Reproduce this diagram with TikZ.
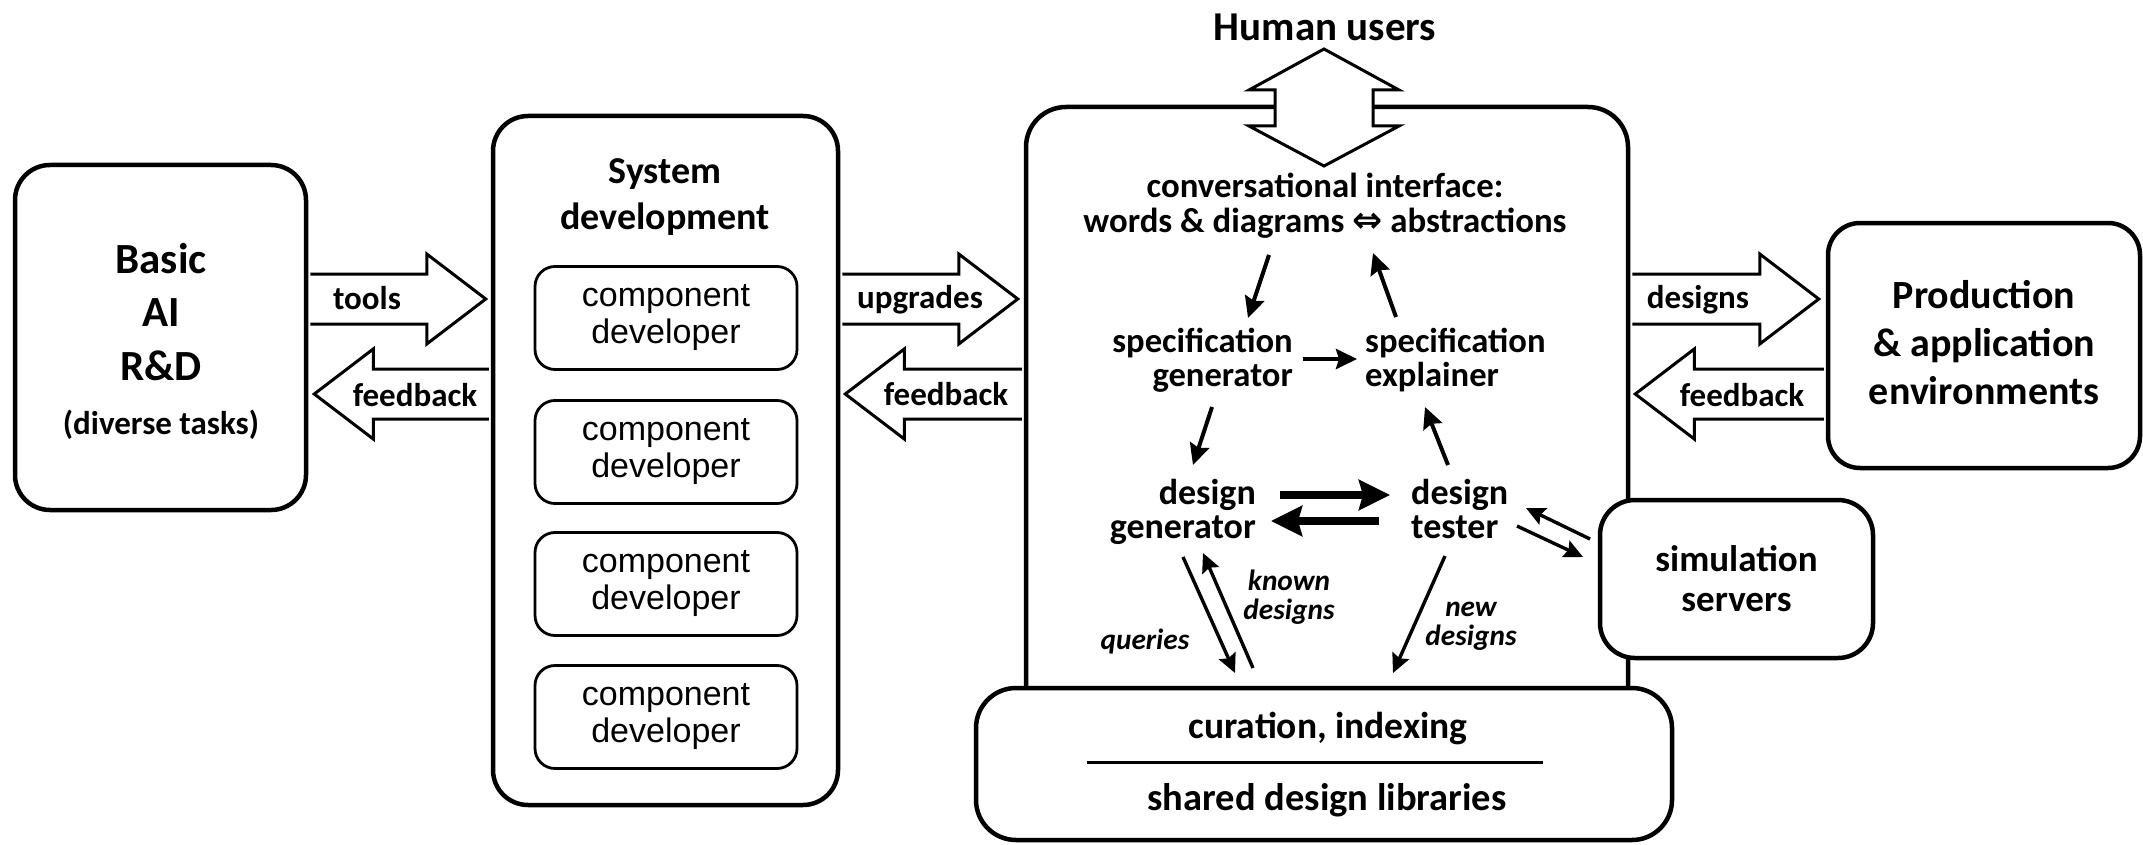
\documentclass[tikz,border=0pt]{standalone}
\usepackage{fontspec}
\setmainfont{Carlito}
\newfontfamily\arialfont{Liberation Sans}
\newfontfamily\symbolfont{DejaVu Sans Bold}
\usetikzlibrary{arrows.meta,calc}
\newcommand\pxsize[2]{\fontsize{#1pt}{#2pt}\selectfont}
% hollow block arrow pointing right: #1 tail point, #2 tip point
\newcommand\fatright[2]{%
  \draw[fat] ([shift={(0,-25)}]#1) -- ([shift={(-59,-25)}]#2) -- ([shift={(-59,-45)}]#2) -- (#2)
    -- ([shift={(-59,45)}]#2) -- ([shift={(-59,25)}]#2) -- ([shift={(0,25)}]#1);}
% hollow block arrow pointing left: #1 tail point, #2 tip point
\newcommand\fatleft[2]{%
  \draw[fat] ([shift={(0,-25)}]#1) -- ([shift={(59,-25)}]#2) -- ([shift={(59,-45)}]#2) -- (#2)
    -- ([shift={(59,45)}]#2) -- ([shift={(59,25)}]#2) -- ([shift={(0,25)}]#1);}
\begin{document}
\begin{tikzpicture}[x=1pt,y=-1pt,
  bigbox/.style={draw, line width=4.5pt, rounded corners=#1, fill=white, inner sep=0pt, align=center},
  bigbox/.default=35pt,
  devbox/.style={draw, line width=2.8pt, rounded corners=20pt, fill=white,
    minimum width=262pt, minimum height=103pt, inner sep=0pt, align=center,
    font=\arialfont\pxsize{34}{37}},
  fat/.style={draw, line width=3pt, fill=white, line join=miter, miter limit=10},
  lbl/.style={inner sep=0pt, font=\bfseries\pxsize{33}{38}},
  txt/.style={inner sep=0pt, font=\bfseries\pxsize{#1}{34}},
  txt/.default=34.6,
  note/.style={inner sep=0pt, align=center, font=\bfseries\itshape\pxsize{29.3}{29}},
  flow/.style={line width=4pt, -{Stealth[length=21pt, width=20pt, inset=3pt]}},
  thinflow/.style={line width=3.4pt, -{Stealth[length=19pt, width=18pt, inset=3pt]}},
  heavyflow/.style={line width=8pt, -{Stealth[length=31pt, width=30pt, inset=4pt]}}]

\fill[white] (0,0) rectangle (2143,845);
\useasboundingbox (0,0) rectangle (2143,845);

% ---- basic research ----
\node[bigbox, minimum width=291pt, minimum height=345pt] (basic) at (160.5,337.5) {};
\node[inner sep=0pt, align=center, font=\bfseries\pxsize{43}{53.5}] (basicT) at (161,312) {Basic\\AI\\R\&D};
\node[lbl] (tasks) at (161,425) {(diverse tasks)};

% ---- system development ----
\node[bigbox, minimum width=345pt, minimum height=689pt] (sysdev) at (665.5,460.5) {};
\node[inner sep=0pt, align=center, font=\bfseries\pxsize{38}{46}] (sysdevT) at (665,197) {System\\development};
\node[devbox] (dev1) at (666,318) {component\\developer};
\node[devbox] (dev2) at (666,452) {component\\developer};
\node[devbox] (dev3) at (666,584) {component\\developer};
\node[devbox] (dev4) at (666,717) {component\\developer};

% ---- design system ----
\node[bigbox=40pt, minimum width=602pt, minimum height=653pt] (design) at (1327,433.5) {};

% ---- production ----
\node[bigbox=32pt, minimum width=312pt, minimum height=245pt, font=\bfseries\pxsize{40}{48}] (prod) at (1984,345.5)
  {Production\\\& application\\environments\vphantom{p}};

% ---- simulation ----
\node[bigbox, minimum width=273pt, minimum height=158pt, font=\bfseries\pxsize{37}{40}] (sim) at (1736.5,579) {simulation\\servers};

% ---- libraries ----
\node[bigbox=40pt, minimum width=696pt, minimum height=152pt] (lib) at (1324,764) {};
\node[inner sep=0pt, font=\bfseries\pxsize{37.5}{40}] (curation) at (1328,728) {curation, indexing};
\draw[line width=3pt] (1087,762) -- (1543,762);
\node[inner sep=0pt, font=\bfseries\pxsize{38.5}{40}] (shared) at (1327,800) {shared design libraries};

% ---- human users ----
\node[inner sep=0pt, font=\bfseries\pxsize{41}{44}] (human) at (1325,27) {Human users};
\draw[fat] (1324,49) -- (1399,90) -- (1373,90) -- (1373,126) -- (1399,126) -- (1324,166)
  -- (1249,126) -- (1275,126) -- (1275,90) -- (1249,90) -- cycle;

% ---- block arrows between stages ----
\coordinate (toolsA) at ($(basic.east |- 0,299)+(2,0)$);
\coordinate (toolsB) at ($(sysdev.west |- 0,299)+(-5,0)$);
\coordinate (upgA) at ($(sysdev.east |- 0,299)+(2,0)$);
\coordinate (upgB) at ($(design.west |- 0,299)+(-6,0)$);
\coordinate (desA) at ($(design.east |- 0,299)+(2,0)$);
\coordinate (desB) at ($(prod.west |- 0,299)+(-7,0)$);
\coordinate (fbLA) at ($(sysdev.west |- 0,394)+(-2,0)$);
\coordinate (fbLB) at ($(basic.east |- 0,394)+(6,0)$);
\coordinate (fbCA) at ($(design.west |- 0,394)+(-2,0)$);
\coordinate (fbCB) at ($(sysdev.east |- 0,394)+(5,0)$);
\coordinate (fbRA) at ($(prod.west |- 0,394)+(-2,0)$);
\coordinate (fbRB) at ($(design.east |- 0,394)+(5,0)$);
\fatright{toolsA}{toolsB}
\fatright{upgA}{upgB}
\fatright{desA}{desB}
\fatleft{fbLA}{fbLB}
\fatleft{fbCA}{fbCB}
\fatleft{fbRA}{fbRB}
\node[lbl] (toolsL) at (367,298) {tools};
\node[lbl] (upgL) at (920,300) {upgrades};
\node[lbl] (desL) at (1698,300) {designs};
\node[lbl] (fbL) at (415,395) {feedback};
\node[lbl] (fbC) at (946,394) {feedback};
\node[lbl] (fbR) at (1742,395) {feedback};

% ---- inner components ----
\node[inner sep=0pt, align=center, font=\bfseries\pxsize{34.8}{35}] (conv) at (1325,205.5)
  {conversational interface:\\words \& diagrams {\symbolfont\pxsize{36}{35}⇔} abstractions};
\node[txt, align=right, anchor=east] (specgen) at (1293,360) {specification\\generator};
\node[txt, align=left, anchor=west] (specexp) at (1365,360) {specification\\explainer};
\node[txt=36, align=right, anchor=east] (desgen) at (1256,512) {design\\generator};
\node[txt=36, align=left, anchor=west] (destest) at (1411,512) {design\\tester\vphantom{g}};
\node[note] (knownL) at (1289,597) {known\\designs};
\node[note] (queriesL) at (1145,642) {queries};
\node[note] (newL) at (1471,626) {new\\designs};

% ---- flows ----
\draw[flow] (1269,255) -- (1248,318);
\draw[flow] (1396,317) -- (1373,253);
\draw[flow] (1303,359) -- (1357,359);
\draw[flow] (1212,407) -- (1193,465);
\draw[flow] (1448,465) -- (1425,407);
\draw[heavyflow] (1280,495) -- (1390,495);
\draw[heavyflow] (1379,521) -- (1271,521);
\draw[thinflow] (1183,557) -- (1235,673);
\draw[thinflow] (1253,668) -- (1203,553);
\draw[thinflow] (1445,556) -- (1393,673);
\draw[thinflow] (1517,526) -- (1583,557);
\draw[thinflow] (1590,539) -- (1526,508);
\end{tikzpicture}
\end{document}
